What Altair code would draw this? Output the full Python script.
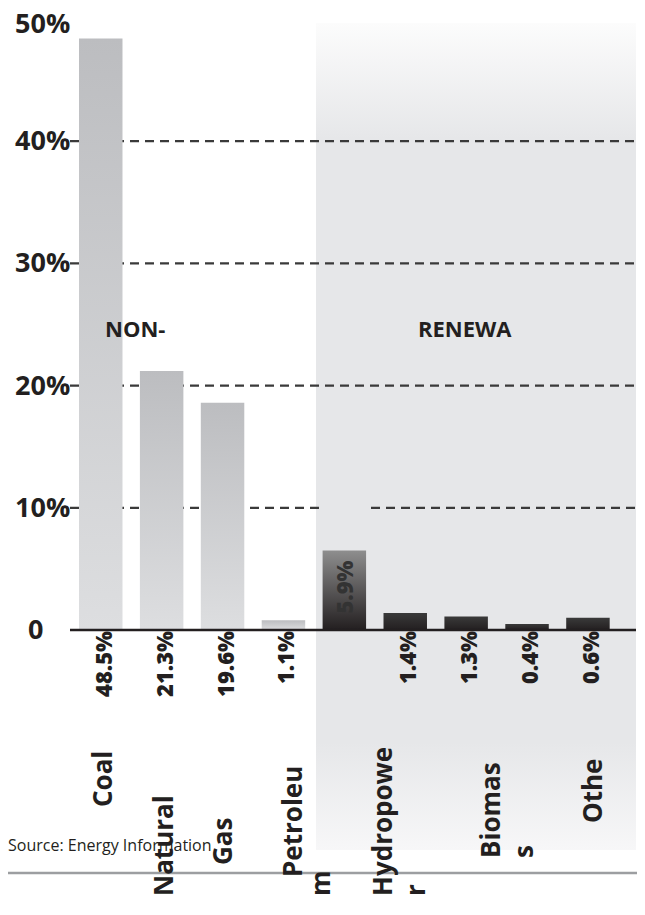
import altair as alt
import pandas as pd

# ---- data ----
bar_ids = ["b1", "b2", "b3", "b4", "b5", "b6", "b7", "b8", "b9"]
bar_values = [48.4, 21.2, 18.6, 0.8, 6.5, 1.4, 1.1, 0.5, 1.0]
bar_groups = ["non", "non", "non", "non", "mid", "dark", "dark", "dark", "dark"]
value_labels = ["48.5%", "21.3%", "19.6%", "1.1%", "5.9%", "1.4%", "1.3%", "0.4%", "0.6%"]

y_tick_values = [40, 30, 20, 10]
y_tick_labels = ["40%", "30%", "20%", "10%"]
y_top_value = [50]
y_top_label = ["50%"]
grid_full = [40, 30, 20]
grid_split = [10]

label_lines = ["Coal", "Natural", "Gas", "Petroleu", "m", "Hydropowe", "r", "Biomas", "s", "Othe"]
label_anchor = ["b1", "b2", "b3", "b4", "b5", "b6", "b6", "b7", "b8", "b9"]
group_titles = ["NON-", "RENEWA"]
source_text = "Source: Energy Information"

# ---- layout (pixels, not data) ----
W, H = 566, 611
TOP = 19  # page y of plot top
line_layout = {  # text: (horizontal shift from band centre, page y where the text starts)
    "Coal": (11, 807), "Natural": (11, 896), "Gas": (9.5, 865), "Petroleu": (18.5, 877),
    "m": (-14.5, 896), "Hydropowe": (-13, 896), "r": (19.5, 896), "Biomas": (34, 858),
    "s": (6, 858), "Othe": (14, 823),
}

INK = "#231f20"
df = pd.DataFrame({"id": bar_ids, "value": bar_values, "group": bar_groups, "label": value_labels})
df["zero"] = 0
df_lines = pd.DataFrame({"id": label_anchor, "text": label_lines})

xscale = alt.Scale(paddingInner=0.286, paddingOuter=0.29, align=0.255)
yscale = alt.Scale(domain=[0, 50], nice=False)
X = alt.X("id:N", sort=bar_ids, scale=xscale, axis=None)


def grad(stops):
    return alt.LinearGradient(gradient="linear", x1=0, y1=0, x2=0, y2=1,
                              stops=[alt.GradientStop(offset=o, color=c) for o, c in stops])


layers = []

# shaded renewable panel
bg = alt.Chart(pd.DataFrame({"k": [0]})).mark_rect(
    color=grad([(0, "#fcfcfc"), (0.14, "#e6e7e9"), (0.87, "#e6e7e9"), (1, "#f7f7f8")])
).encode(x=alt.value(246), x2=alt.value(W), y=alt.value(23 - TOP), y2=alt.value(850 - TOP))
layers.append(bg)

# dashed gridlines
dash = dict(color="#3a3a3a", strokeWidth=2.2, strokeDash=[9, 6])
g1 = alt.Chart(pd.DataFrame({"v": grid_full})).mark_rule(**dash).encode(
    y=alt.Y("v:Q", scale=yscale, axis=None), x=alt.value(0), x2=alt.value(W))
g2 = alt.Chart(pd.DataFrame({"v": grid_split})).mark_rule(**dash).encode(
    y=alt.Y("v:Q", scale=yscale, axis=None), x=alt.value(0), x2=alt.value(250))
g3 = alt.Chart(pd.DataFrame({"v": grid_split})).mark_rule(**dash).encode(
    y=alt.Y("v:Q", scale=yscale, axis=None), x=alt.value(301), x2=alt.value(W))
layers += [g1, g2, g3]

# bars
fills = {
    "non": grad([(0, "#bcbdc0"), (1, "#dddee0")]),
    "mid": grad([(0, "#8e8e8e"), (1, INK)]),
    "dark": grad([(0, "#3a3a3a"), (1, INK)]),
}
for g, f in fills.items():
    layers.append(
        alt.Chart(df).transform_filter(alt.datum.group == g).mark_bar(color=f).encode(
            x=X, y=alt.Y("value:Q", scale=yscale, axis=None))
    )

# baseline
layers.append(alt.Chart(pd.DataFrame({"v": [0]})).mark_rule(color=INK, strokeWidth=2.5).encode(
    y=alt.Y("v:Q", scale=yscale, axis=None), x=alt.value(0), x2=alt.value(W)))

# bottom grey rule
layers.append(alt.Chart(pd.DataFrame({"k": [0]})).mark_rule(color="#9c9ea1", strokeWidth=2.5).encode(
    y=alt.value(873 - TOP), x=alt.value(-62), x2=alt.value(W + 1)))

# value labels
vfont = dict(font="Open Sans", fontSize=22, fontWeight=800, angle=270, baseline="middle")
layers.append(alt.Chart(df).transform_filter(alt.datum.group != "mid").mark_text(
    align="right", dx=-1, dy=4, color=INK, **vfont).encode(
    x=X, y=alt.Y("zero:Q", scale=yscale, axis=None), text="label:N"))
layers.append(alt.Chart(df).transform_filter(alt.datum.group == "mid").mark_text(
    align="right", dx=-10, dy=2, color="#333333", **vfont).encode(
    x=X, y=alt.Y("value:Q", scale=yscale, axis=None), text="label:N"))

# category label lines
for t in label_lines:
    shift, py = line_layout[t]
    layers.append(alt.Chart(df_lines).transform_filter(alt.datum.text == t).mark_text(
        font="Open Sans", fontSize=26, fontWeight="bold", angle=270, align="left",
        baseline="alphabetic", dy=shift, color=INK).encode(
        x=X, y=alt.value(py - TOP), text="text:N"))

# y tick labels
yfont = dict(font="Open Sans", fontSize=27, fontWeight="bold", color=INK, baseline="middle", align="left")
layers.append(alt.Chart(pd.DataFrame({"v": y_tick_values, "t": y_tick_labels})).mark_text(dy=1, **yfont).encode(
    y=alt.Y("v:Q", scale=yscale, axis=None), x=alt.value(15 - 70), text="t:N"))
layers.append(alt.Chart(pd.DataFrame({"v": y_top_value, "t": y_top_label})).mark_text(dy=6, **yfont).encode(
    y=alt.Y("v:Q", scale=yscale, axis=None), x=alt.value(15 - 70), text="t:N"))
layers.append(alt.Chart(pd.DataFrame({"v": [0], "t": ["0"]})).mark_text(dy=1, **yfont).encode(
    y=alt.Y("v:Q", scale=yscale, axis=None), x=alt.value(28 - 70), text="t:N"))

# group titles
tfont = dict(font="Open Sans", fontSize=22, fontWeight="bold", color=INK, baseline="middle", align="left")
layers.append(alt.Chart(pd.DataFrame({"t": [group_titles[0]]})).mark_text(**tfont).encode(
    x=alt.value(105 - 70), y=alt.value(330 - TOP), text="t:N"))
layers.append(alt.Chart(pd.DataFrame({"t": [group_titles[1]]})).mark_text(**tfont).encode(
    x=alt.value(418 - 70), y=alt.value(330 - TOP), text="t:N"))

# source
layers.append(alt.Chart(pd.DataFrame({"t": [source_text]})).mark_text(
    font="Open Sans", fontSize=16, color=INK, align="left", baseline="alphabetic").encode(
    x=alt.value(-62), y=alt.value(851 - TOP), text="t:N"))

chart = alt.layer(*layers).properties(
    width=W, height=H, autosize="none",
    padding={"left": 62, "top": TOP - 8, "right": 1, "bottom": 265},
).configure_view(strokeWidth=0)

chart.save("out.html", embed_options={"renderer": "svg", "actions": False})
